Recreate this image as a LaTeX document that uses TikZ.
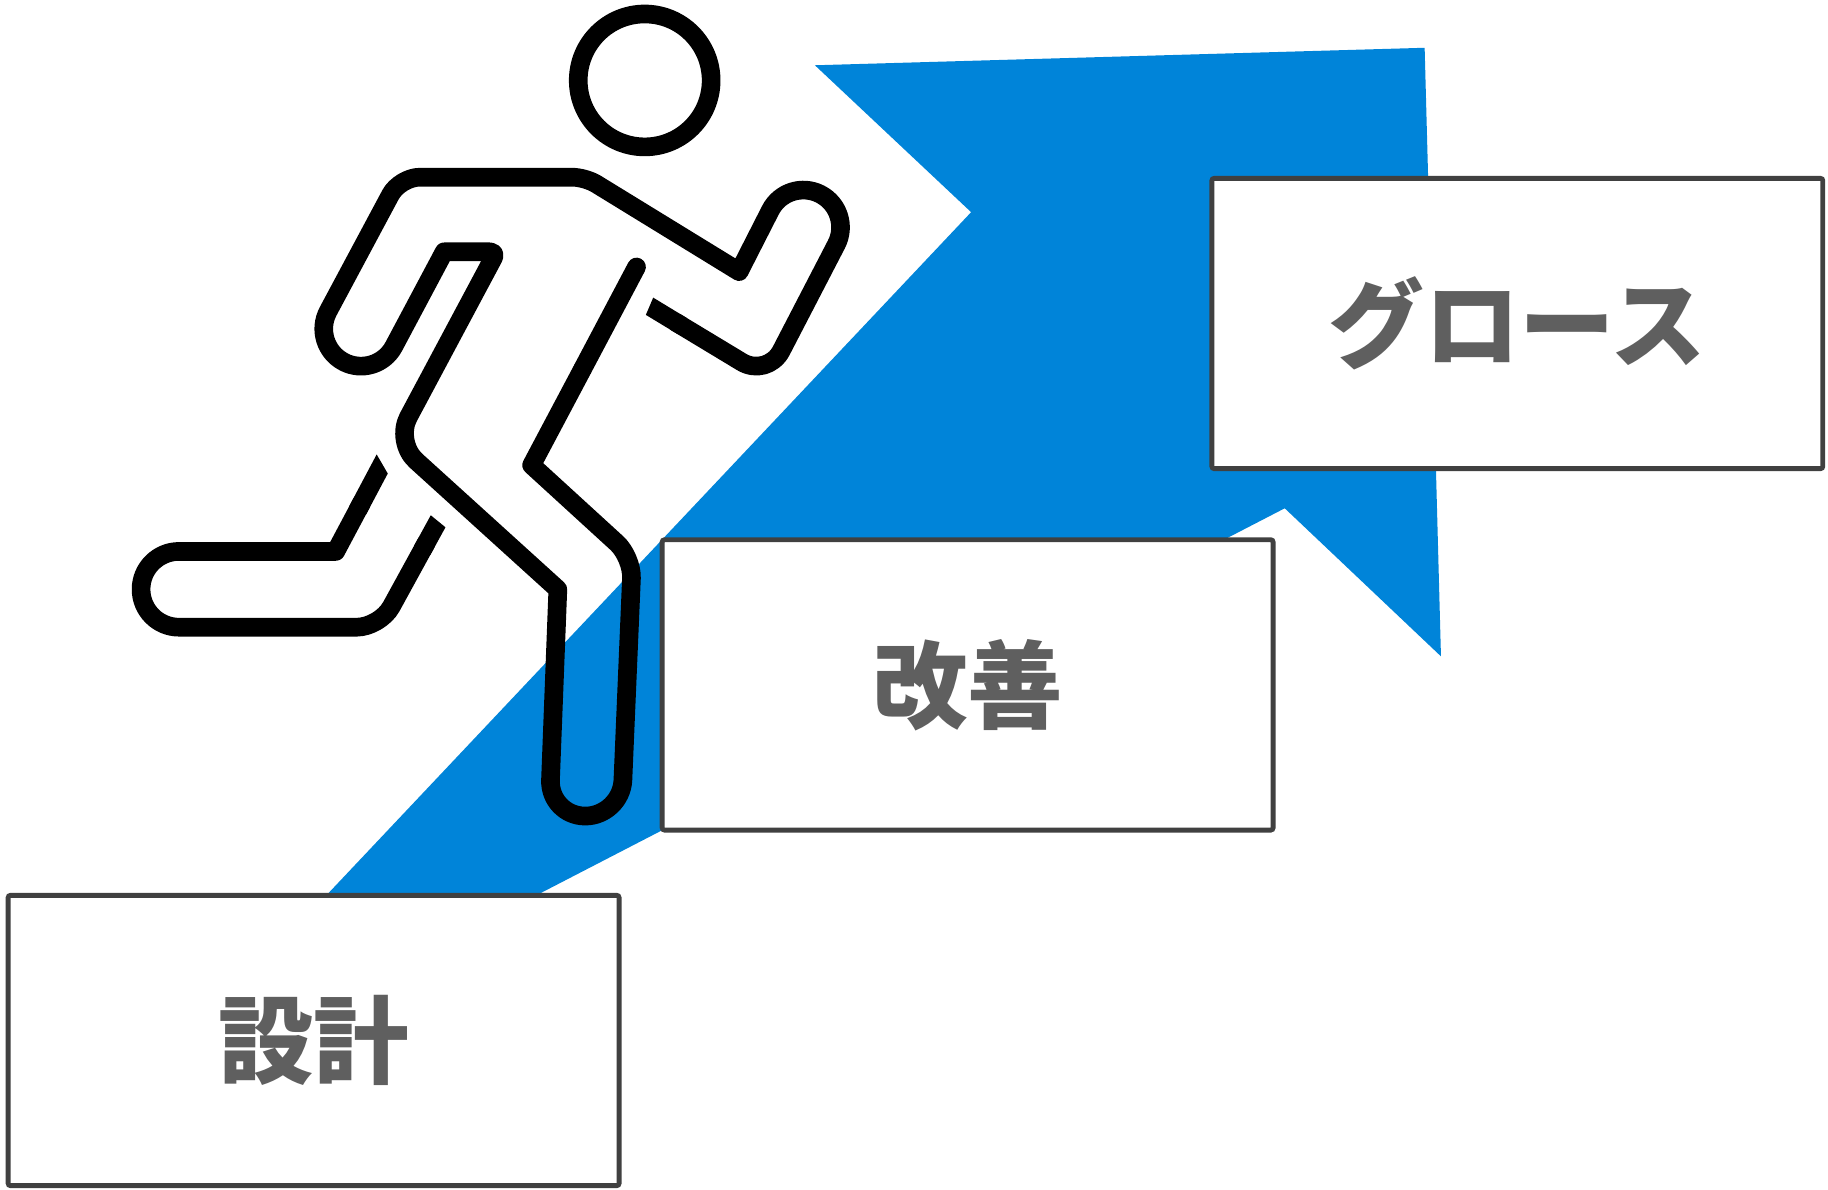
\documentclass[tikz,border=0pt]{standalone}
\usepackage{fontspec}
\newfontfamily\cjk{Noto Sans CJK JP}
\definecolor{bluearrow}{HTML}{0084D9}
\definecolor{boxline}{HTML}{404040}
\definecolor{boxtext}{HTML}{5F5F5F}
\tikzset{
  stepbox/.style={draw=boxline,fill=white,line width=2.1pt,rounded corners=1pt,
    minimum width=262pt,minimum height=124.5pt,inner sep=0pt,outer sep=0pt,
    text=boxtext,font=\cjk\bfseries\fontsize{41}{41}\selectfont},
  figure/.style={draw=black,line width=8pt,line join=round,line cap=butt},
  cutend/.style={fill=black,draw=none}
}
\begin{document}
\begin{tikzpicture}[x=0.5pt,y=-0.5pt]
\useasboundingbox (0,0) rectangle (1568,1020);
\fill[white] (0,0) rectangle (1568,1020);
% blue arrow-like shape
\fill[bluearrow] (699,56) -- (1222,41) -- (1236,563) -- (1102,436) -- (460,768) -- (279,769) -- (833,182) -- cycle;
% head
\draw[figure] (553,69) circle[radius=57];
% arms, torso and front leg
\draw[figure] (579,276) -- (632,308)
  [rounded corners=13pt] -- (658.2,323.9)
  [rounded corners=16pt] -- (732.1,181.3) -- (675.3,151.9)
  [sharp corners] -- (634,233)
  [rounded corners=5.5pt] -- (502,152)
  [rounded corners=8.5pt] -- (343,152)
  [rounded corners=16pt] -- (266.4,295.2) -- (322.8,325.4)
  [sharp corners] -- (381,216)
  [rounded corners=3pt] -- (426,216)
  [rounded corners=12pt] -- (339,379)
  [sharp corners] -- (478.5,505.5)
  [rounded corners=15.5pt] -- (471,700) -- (533,700)
  [rounded corners=9pt] -- (542.4,478)
  [sharp corners] -- (456,399) -- (500,316);
\draw[figure,line cap=round] (500,316) -- (546,229);
\fill[cutend] (560.3,255.3) -- (554,270.1) -- (580.9,286.4) -- (589.1,272.8) -- cycle;
% back leg
\draw[figure] (310.3,431.1) -- (288,473) -- (154,473)
  [rounded corners=16.25pt] -- (121,473) -- (121,538)
  [rounded corners=10pt] -- (326,538)
  [sharp corners] -- (366,465);
\fill[cutend] (323.1,389.8) -- (332.6,406.2) -- (313.9,441.5) -- (299.7,433.9) -- cycle;
\fill[cutend] (369.5,442) -- (382.1,452.3) -- (369.1,476) -- (355.1,468.3) -- cycle;
% step boxes
\node[stepbox] (design) at (269,892.5) {設計};
\node[stepbox] (improve) at (830,587.5) {改善};
\node[stepbox] (growth) at (1301.5,277.5) {グロース};
\end{tikzpicture}
\end{document}
